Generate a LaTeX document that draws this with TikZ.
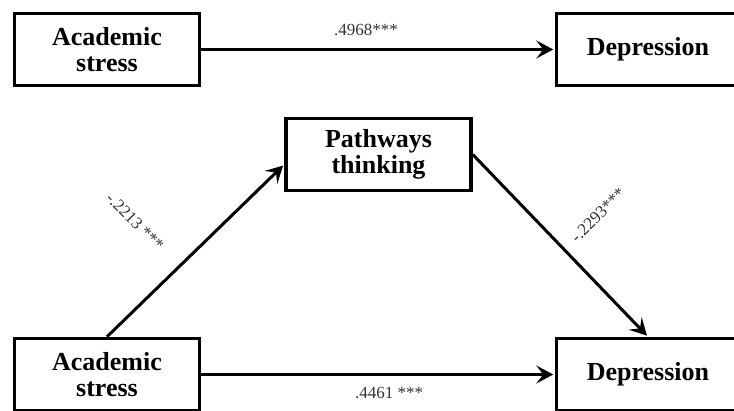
\documentclass[tikz,border=0pt]{standalone}
\usepackage{fontspec}
\setmainfont{Liberation Serif}
\usetikzlibrary{arrows.meta}
\begin{document}
\begin{tikzpicture}[x=1pt, y=-1pt,
    box/.style={draw, line width=3.5pt, minimum width=185pt, minimum height=72pt,
      align=center, inner sep=0pt, font=\fontsize{26}{26}\selectfont\bfseries},
    coef/.style={inner sep=0pt, text=black!80, font=\fontsize{17}{17}\selectfont},
    path/.style={->, line width=3pt, shorten >=1.5pt},
    >={Stealth[length=17pt, width=18pt, inset=7pt]}]
  \useasboundingbox (0,0) rectangle (734,410);
  \clip (0,0) rectangle (734,410);

  % total effect
  \node[box] (as1) at (107,49.5) {Academic\\stress};
  \node[box, minimum width=183pt] (dep1) at (648,49.5) {Depression};
  \draw[path] (as1) -- (dep1);
  \node[coef] (c1) at (366,30) {.4968***};

  % mediation model
  \node[box] (pw) at (378.5,154.5) {Pathways\\thinking};
  \node[box] (as2) at (107,374.5) {Academic\\stress};
  \node[box, minimum width=183pt] (dep2) at (648,374.5) {Depression};

  \draw[path] (as2.north) -- ([yshift=-10pt]pw.west);
  \draw[path] (pw.east) -- (dep2.north);
  \draw[path] (as2) -- (dep2);

  \node[coef, rotate=-45] (c2) at (135,222) {-.2213 ***};
  \node[coef, rotate=45] (c3) at (598,215) {-.2293***};
  \node[coef] (c4) at (389,393) {.4461 ***};
\end{tikzpicture}
\end{document}
